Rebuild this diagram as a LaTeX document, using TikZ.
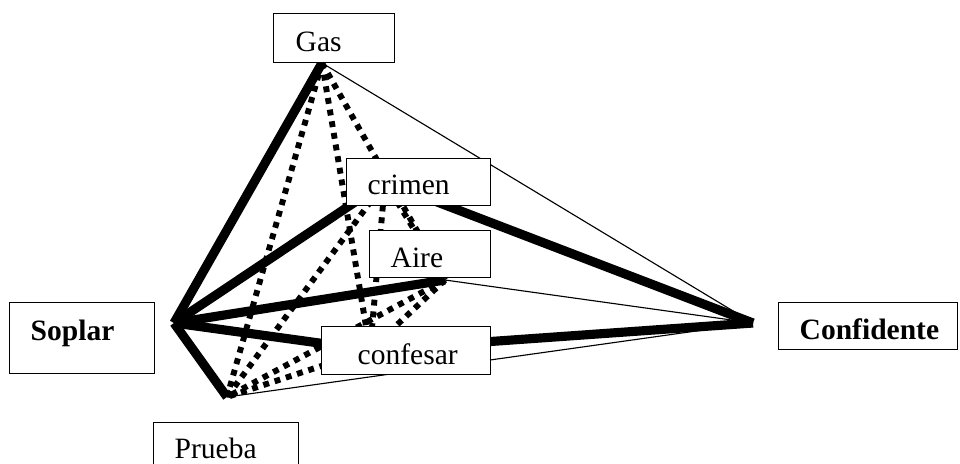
\documentclass[tikz,border=0pt]{standalone}
\usepackage{fontspec}
\setmainfont{Liberation Serif}

\tikzset{
    heavy/.style={line width=6.5pt},
    light/.style={line width=0.8pt},
    dots/.style={line width=4.2pt,dash pattern=on 4.2pt off 4.2pt},
    box/.style={draw,line width=1pt,fill=white,anchor=north west,align=left,
        inner ysep=0pt,inner xsep=0.525cm,font=\fontsize{21}{25}\selectfont}
}

\begin{document}
\begin{tikzpicture}[x=0.025cm,y=-0.025cm]
            \useasboundingbox (0,0) rectangle (960,463);
            \clip (0,0) rectangle (960,463);

            % meeting points of the links
            \coordinate (gasPt) at (322,63);
            \coordinate (crimenPt) at (385,182);
            \coordinate (airePt) at (445,280);
            \coordinate (confesarPt) at (370,350);
            \coordinate (soplarPt) at (174,323);
            \coordinate (pruebaPt) at (227,397);
            \coordinate (confidentePt) at (753,323);

            % strong links
            \foreach \a/\b in {soplarPt/gasPt,soplarPt/crimenPt,soplarPt/airePt,
                soplarPt/confesarPt,soplarPt/pruebaPt,crimenPt/confidentePt,
                confesarPt/confidentePt}
                \draw[heavy] (\a) -- (\b);

            % weak links
            \foreach \a/\b in {gasPt/confidentePt,airePt/confidentePt,pruebaPt/confidentePt}
                \draw[light] (\a) -- (\b);

            % dotted links
            \foreach \a/\b in {gasPt/pruebaPt,gasPt/confesarPt,gasPt/airePt,
                crimenPt/pruebaPt,crimenPt/airePt,crimenPt/confesarPt,
                airePt/confesarPt,airePt/pruebaPt,confesarPt/pruebaPt}
                \draw[dots] (\a) -- (\b);

            % word boxes
            \node[box,inner xsep=0.55cm,text width=1.925cm,text height=0.95cm,text depth=0.275cm] (gas) at (273,13) {Gas};
            \node[box,text width=2.55cm,text height=0.9cm,text depth=0.275cm] (crimen) at (346,158) {crimen};
            \node[box,text width=1.975cm,text height=0.925cm,text depth=0.25cm] (aire) at (369,230) {Aire};
            \node[box,inner xsep=0.9cm,text width=2.425cm,text height=0.95cm,text depth=0.25cm] (confesar) at (321,326) {confesar};
            \node[box,text width=2.575cm,text height=0.95cm,text depth=0.825cm] (soplar) at (9,302) {\textbf{Soplar}};
            \node[box,text width=3.425cm,text height=0.925cm,text depth=0.25cm] (confidente) at (778,302) {\textbf{Confidente}};
            \node[box,text width=2.575cm,text height=0.9cm,text depth=0.425cm] (prueba) at (153,422) {Prueba};
        \end{tikzpicture}
\end{document}
